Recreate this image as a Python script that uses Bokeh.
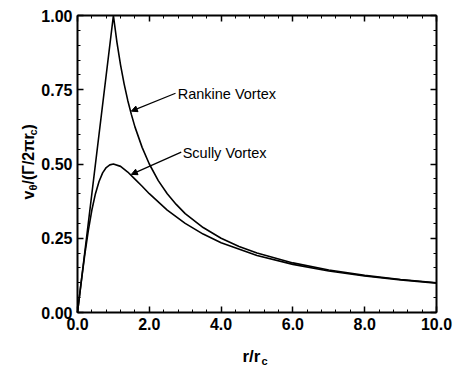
from math import pi
from bokeh.plotting import figure
from bokeh.models import (Range1d, LinearAxis, Label, Arrow, NormalHead,
                          FixedTicker, PrintfTickFormatter)
from bokeh.embed import file_html
from bokeh.resources import INLINE

# ---- data ----
rankine_r = [0.0, 0.5, 1.0, 1.1, 1.2, 1.3, 1.4, 1.5, 1.6, 1.8, 2.0, 2.25, 2.5, 2.75,
             3.0, 3.5, 4.0, 4.5, 5.0, 6.0, 7.0, 8.0, 9.0, 10.0]
rankine_v = [0.0, 0.5, 1.0, 0.909, 0.833, 0.769, 0.714, 0.667, 0.625, 0.556, 0.50,
             0.444, 0.40, 0.364, 0.333, 0.286, 0.25, 0.222, 0.20, 0.167, 0.143,
             0.125, 0.111, 0.10]
scully_r = [0.0, 0.1, 0.2, 0.3, 0.4, 0.5, 0.6, 0.7, 0.8, 0.9, 1.0, 1.2, 1.4, 1.6,
            1.8, 2.0, 2.5, 3.0, 3.5, 4.0, 5.0, 6.0, 7.0, 8.0, 9.0, 10.0]
scully_v = [0.0, 0.099, 0.192, 0.275, 0.345, 0.40, 0.441, 0.470, 0.488, 0.497, 0.50,
            0.492, 0.473, 0.449, 0.425, 0.40, 0.345, 0.30, 0.264, 0.235, 0.192,
            0.162, 0.14, 0.123, 0.11, 0.099]
x_ticks = [0.0, 2.0, 4.0, 6.0, 8.0, 10.0]
y_ticks = [0.0, 0.25, 0.50, 0.75, 1.00]
series_names = ["Rankine Vortex", "Scully Vortex"]
x_lim = (0.0, 10.0)
y_lim = (0.0, 1.0)

FONT = "Liberation Sans"
W, H = 459, 369
# plotting box inside the canvas (pixels)
BOX_L, BOX_R, BOX_T, BOX_B = 77, 436, 15, 312
sx = (BOX_R - BOX_L) / (x_lim[1] - x_lim[0])
sy = (BOX_B - BOX_T) / (y_lim[1] - y_lim[0])


def dx(px):
    return x_lim[0] + (px - BOX_L) / sx


def dy(py):
    return y_lim[0] + (BOX_B - py) / sy


p = figure(width=W, height=H, x_range=Range1d(dx(0), dx(W)),
           y_range=Range1d(dy(H), dy(0)),
           output_backend="svg", toolbar_location=None,
           min_border_left=0, min_border_right=0, min_border_top=0,
           min_border_bottom=0, x_axis_location=None, y_axis_location=None)
p.grid.visible = False
p.outline_line_color = None
p.background_fill_color = "white"
p.border_fill_color = "white"


def make_axis(ticks, fmt, show_labels, minor, loc, bounds):
    ax = LinearAxis(ticker=FixedTicker(ticks=ticks, minor_ticks=minor),
                    formatter=PrintfTickFormatter(format=fmt if show_labels else ""),
                    fixed_location=loc, bounds=bounds)
    ax.axis_line_color = "black"
    ax.axis_line_width = 2
    ax.major_tick_in = 6
    ax.major_tick_out = 0
    ax.minor_tick_in = 3
    ax.minor_tick_out = 0
    ax.major_tick_line_width = 1.5
    ax.minor_tick_line_width = 1
    ax.major_label_text_font = FONT
    ax.major_label_text_font_style = "bold"
    ax.major_label_text_color = "black"
    ax.major_label_text_font_size = "16px"
    ax.major_label_standoff = 5 if show_labels else 0
    return ax


x_minor = [i * 0.4 for i in range(26)]
y_minor = [i * 0.05 for i in range(21)]
p.add_layout(make_axis(x_ticks, "%.1f", True, x_minor, y_lim[0], x_lim), "below")
p.add_layout(make_axis(x_ticks, "%.1f", False, x_minor, y_lim[1], x_lim), "above")
p.add_layout(make_axis(y_ticks, "%.2f", True, y_minor, x_lim[0], y_lim), "left")
p.add_layout(make_axis(y_ticks, "%.2f", False, y_minor, x_lim[1], y_lim), "right")

p.line(rankine_r, rankine_v, line_color="black", line_width=1.6)
p.line(scully_r, scully_v, line_color="black", line_width=1.6)

# leader lines with small heads
for (x0, y0, x1, y1) in [(2.73, 0.738, 1.50, 0.678), (2.89, 0.54, 1.50, 0.465)]:
    p.add_layout(Arrow(x_start=x0, y_start=y0, x_end=x1, y_end=y1,
                       line_color="black", line_width=1.2,
                       end=NormalHead(size=6, fill_color="black", line_color="black")))

p.add_layout(Label(x=2.79, y=0.737, text=series_names[0], text_font=FONT,
                   text_font_size="14.5px", text_baseline="middle",
                   text_color="black"))
p.add_layout(Label(x=2.93, y=0.537, text=series_names[1], text_font=FONT,
                   text_font_size="14.5px", text_baseline="middle",
                   text_color="black"))


# axis titles (with subscripts), positioned by canvas pixels
def lab(px, py, t, size, angle=0.0):
    p.add_layout(Label(x=dx(px), y=dy(py), text=t, angle=angle, text_font=FONT,
                       text_font_size=size, text_font_style="bold",
                       text_color="black", text_align="left",
                       text_baseline="alphabetic"))


lab(28, 199, "v", "16px", pi / 2)
lab(32, 190, "θ", "11px", pi / 2)
lab(28, 184, "/(Γ/2πr", "16px", pi / 2)
lab(32, 135, "c", "11px", pi / 2)
lab(28, 129, ")", "16px", pi / 2)

lab(242, 356, "r/r", "17px")
lab(261, 360, "c", "11px")

open("out.html", "w").write(file_html(p, INLINE))
